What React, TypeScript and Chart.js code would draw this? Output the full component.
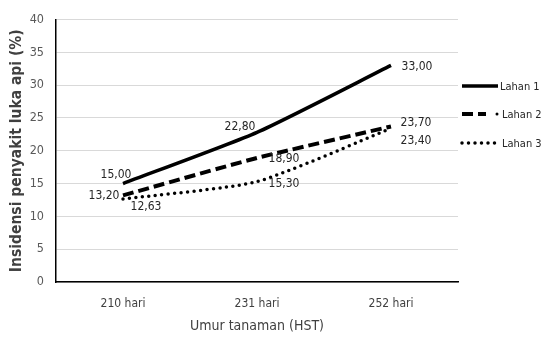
import React, { useEffect, useRef } from "react";
import { Chart, registerables } from "chart.js";

Chart.register(...registerables);

const categories = ["210 hari", "231 hari", "252 hari"];
const seriesNames = ["Lahan 1", "Lahan 2", "Lahan 3"];
const lahan1 = [15.0, 22.8, 33.0];
const lahan2 = [13.2, 18.9, 23.7];
const lahan3 = [12.63, 15.3, 23.4];
const yTitle = "Insidensi penyakit luka api (%)";
const xTitle = "Umur tanaman (HST)";

const FONT = "'Liberation Sans Narrow', 'DejaVu Sans Condensed', 'Roboto', sans-serif";

// label offsets (dx, dy) from each point, per dataset
const labelOffsets = [
  [[-7, -9], [-17, -6], [26, 1]],
  [[-19, 0], [27, 1], [25, -4]],
  [[23, 8], [27, 2], [25, 12]],
];

const dashStyles = [
  { dash: [] as number[], cap: "butt" as CanvasLineCap, width: 3.5 },
  { dash: [11, 5], cap: "butt" as CanvasLineCap, width: 4 },
  { dash: [0, 6.5], cap: "round" as CanvasLineCap, width: 3.5 },
];

const fmt = (v: number) => v.toFixed(2).replace(".", ",");

const labelsPlugin = {
  id: "customLabels",
  afterDatasetsDraw(chart: any) {
    const ctx = chart.ctx;
    ctx.save();
    ctx.font = `12px ${FONT}`;
    ctx.fillStyle = "#262626";
    ctx.textAlign = "center";
    ctx.textBaseline = "middle";
    chart.data.datasets.forEach((ds: any, di: number) => {
      const meta = chart.getDatasetMeta(di);
      meta.data.forEach((pt: any, i: number) => {
        const [dx, dy] = labelOffsets[di][i];
        ctx.fillText(fmt(ds.data[i]), pt.x + dx, pt.y + dy);
      });
    });
    ctx.restore();
  },
  afterDraw(chart: any) {
    const ctx = chart.ctx;
    const area = chart.chartArea;
    ctx.save();
    const x0 = area.right + 4;
    const ys = [86, 114, 143];
    const lens = [36, 24, 38];
    chart.data.datasets.forEach((ds: any, di: number) => {
      const st = dashStyles[di];
      const y = ys[di];
      ctx.beginPath();
      ctx.setLineDash(st.dash);
      ctx.lineCap = st.cap;
      ctx.lineWidth = st.width;
      ctx.strokeStyle = "#000";
      ctx.moveTo(x0, y);
      ctx.lineTo(x0 + lens[di], y);
      ctx.stroke();
      ctx.setLineDash([]);
      if (di === 1) {
        ctx.beginPath();
        ctx.fillStyle = "#000";
        ctx.arc(x0 + 35, y, 1.5, 0, Math.PI * 2);
        ctx.fill();
      }
      ctx.font = `11px ${FONT}`;
      ctx.fillStyle = "#262626";
      ctx.textAlign = "left";
      ctx.textBaseline = "middle";
      ctx.fillText(ds.label, x0 + (di === 0 ? 38 : 40), y + 1);
    });
    ctx.restore();
  },
};

export default function App() {
  const ref = useRef<HTMLCanvasElement>(null);
  useEffect(() => {
    document.body.style.margin = "0";
    const series = [lahan1, lahan2, lahan3];
    const chart = new Chart(ref.current!, {
      type: "line",
      data: {
        labels: categories,
        datasets: series.map((d, i) => ({
          label: seriesNames[i],
          data: d,
          borderColor: "#000",
          backgroundColor: "#000",
          borderWidth: dashStyles[i].width,
          borderDash: dashStyles[i].dash,
          borderCapStyle: dashStyles[i].cap,
          pointRadius: 0,
          tension: 0.2,
          fill: false,
        })),
      },
      options: {
        animation: false,
        responsive: false,
        layout: { padding: { top: 13, right: 84, left: 0, bottom: 0 } },
        plugins: { legend: { display: false }, tooltip: { enabled: false } },
        scales: {
          x: {
            offset: true,
            afterFit: (s: any) => { s.height = 69; },
            grid: { display: false, drawTicks: false },
            border: { display: true, color: "#000", width: 1.5 },
            ticks: { color: "#404040", font: { family: FONT, size: 12 }, padding: 15 },
            title: {
              display: true,
              text: xTitle,
              color: "#404040",
              font: { family: FONT, size: 14 },
              padding: { top: 0, bottom: 16 },
            },
          },
          y: {
            min: 0,
            max: 40,
            afterFit: (s: any) => { s.width = 56; },
            grid: { color: "#d9d9d9", lineWidth: 1, drawTicks: false },
            border: { display: true, color: "#000", width: 1.5 },
            ticks: { stepSize: 5, color: "#595959", font: { family: FONT, size: 12.5 }, padding: 12 },
            title: {
              display: true,
              text: yTitle,
              color: "#404040",
              font: { family: FONT, size: 15.5, weight: "bold" },
              padding: { top: 8, bottom: 0 },
            },
          },
        },
      },
      plugins: [labelsPlugin],
    });
    return () => chart.destroy();
  }, []);
  return (
    <div style={{ position: "absolute", left: 0, top: 0, width: 542, height: 351, background: "#fff" }}>
      <canvas ref={ref} width={542} height={351} style={{ width: 542, height: 351 }} />
    </div>
  );
}
